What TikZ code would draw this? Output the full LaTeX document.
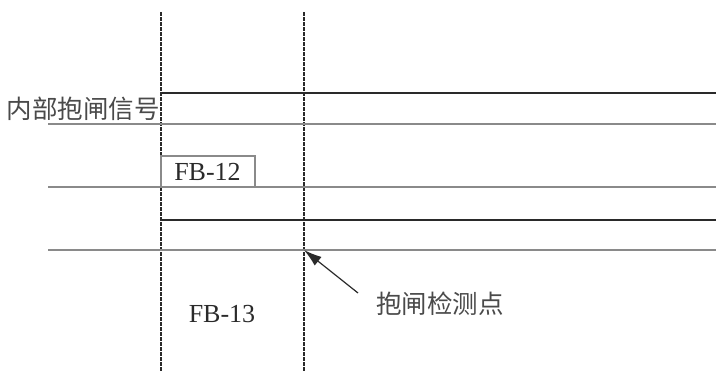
\documentclass[tikz,border=0pt]{standalone}
\usepackage{fontspec}
\setmainfont{Liberation Serif}
\newfontfamily\cjk{Noto Sans CJK SC}[FakeBold=0]
\usetikzlibrary{arrows.meta}
\definecolor{ink}{HTML}{2A2A2A}
\definecolor{lgray}{HTML}{8A8A8A}
\begin{document}
\begin{tikzpicture}[x=1pt,y=-1pt,
  sig/.style={draw=ink,line width=1.2pt},
  sigg/.style={draw=lgray,line width=1.6pt},
  vdash/.style={draw=ink,line width=1.5pt,dash pattern=on 3.5pt off 1.5pt},
  lbl/.style={text=ink,inner sep=0pt,font=\fontsize{26}{28}\selectfont},
  cjklbl/.style={text=ink!85,inner sep=0pt,font=\cjk\fontsize{25.5}{28}\selectfont}]
\useasboundingbox (0,0) rectangle (716,372);
% vertical dashed markers
\coordinate (v1t) at (161,12); \coordinate (v1b) at (161,372);
\coordinate (v2t) at (304,12); \coordinate (v2b) at (304,372);
\draw[vdash] (v1t) -- (v1b);
\draw[vdash] (v2t) -- (v2b);
% signal lines
\coordinate (a1) at (161,93); \coordinate (a2) at (716,93);
\coordinate (b1) at (48,124); \coordinate (b2) at (716,124);
\coordinate (c1) at (48,187); \coordinate (c2) at (716,187);
\coordinate (d1) at (161,220); \coordinate (d2) at (716,220);
\coordinate (e1) at (48,250); \coordinate (e2) at (716,250);
\draw[sig] (a1) -- (a2);
\draw[sigg] (b1) -- (b2);
\draw[sigg] (c1) -- (c2);
\draw[sig] (d1) -- (d2);
\draw[sigg] (e1) -- (e2);
% FB-12 box
\draw[draw=lgray,line width=1.2pt] (161,187) -- (161,156) -- (255,156) -- (255,187);
\node[lbl] (fb12) at (207.5,172) {FB-12};
\node[lbl] (fb13) at (222,314) {FB-13};
\node[cjklbl,anchor=east] (sig) at (160,109) {内部抱闸信号};
\node[cjklbl,anchor=west] (det) at (376,304) {抱闸检测点};
% arrow
\coordinate (tip) at (304,250);
\coordinate (tail) at (358,293);
\draw[draw=ink,line width=1.2pt,-{Latex[length=18pt,width=11pt]}] (tail) -- (tip);
\end{tikzpicture}
\end{document}
